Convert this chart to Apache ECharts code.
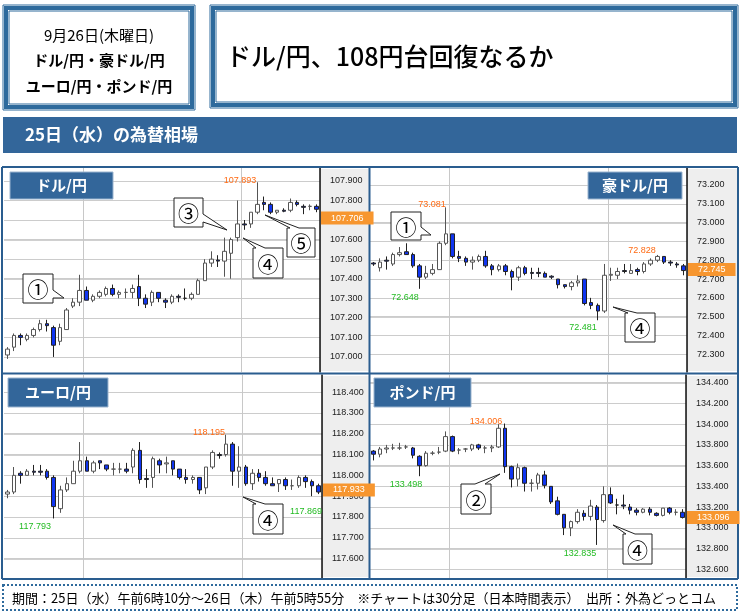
<!DOCTYPE html>
<html><head><meta charset="utf-8">
<script src="https://cdn.jsdelivr.net/npm/echarts@6/dist/echarts.min.js"></script>
<style>html,body{margin:0;padding:0;background:#fff}#c{width:740px;height:614px}</style>
</head><body><div id="c"></div>
<script>
// ---- data: [open, close, low, high] per 30-minute candle ----
const categories = [];
for (let i = 0; i < 48; i++) { const m = 370 + i * 30; categories.push(String(Math.floor(m / 60) % 24).padStart(2, '0') + ':' + String(m % 60).padStart(2, '0')); }

const usdjpy = [
[107.01,107.04,106.99,107.05],[107.05,107.11,107.03,107.12],[107.11,107.10,107.06,107.12],[107.09,107.11,107.08,107.12],
[107.11,107.14,107.10,107.15],[107.14,107.17,107.13,107.19],[107.17,107.16,107.13,107.19],[107.15,107.06,107.00,107.16],
[107.08,107.15,107.06,107.17],[107.14,107.24,107.14,107.25],[107.26,107.28,107.25,107.30],[107.28,107.34,107.26,107.42],
[107.34,107.29,107.29,107.36],[107.29,107.31,107.28,107.32],[107.31,107.33,107.30,107.34],[107.32,107.35,107.31,107.36],
[107.35,107.32,107.31,107.37],[107.32,107.33,107.30,107.34],[107.33,107.33,107.30,107.35],[107.33,107.35,107.30,107.37],
[107.36,107.30,107.26,107.42],[107.30,107.27,107.25,107.32],[107.28,107.33,107.26,107.34],[107.33,107.30,107.28,107.33],
[107.29,107.28,107.25,107.30],[107.28,107.31,107.27,107.32],[107.31,107.305,107.28,107.32],[107.30,107.30,107.29,107.35],
[107.30,107.32,107.29,107.33],[107.32,107.39,107.32,107.40],[107.39,107.48,107.39,107.50],[107.48,107.50,107.46,107.54],
[107.495,107.49,107.46,107.52],[107.49,107.54,107.41,107.61],[107.53,107.60,107.40,107.61],[107.61,107.68,107.59,107.80],
[107.68,107.675,107.65,107.70],[107.68,107.74,107.66,107.74],[107.74,107.78,107.73,107.893],[107.79,107.78,107.75,107.82],
[107.78,107.74,107.73,107.79],[107.74,107.75,107.73,107.75],[107.75,107.745,107.74,107.76],[107.75,107.79,107.74,107.81],
[107.79,107.78,107.77,107.80],[107.77,107.765,107.73,107.78],[107.77,107.77,107.75,107.78],[107.77,107.755,107.74,107.78]];

const audjpy = [
[72.785,72.78,72.77,72.79],[72.76,72.79,72.74,72.81],[72.80,72.795,72.75,72.82],[72.78,72.83,72.77,72.84],
[72.83,72.84,72.82,72.87],[72.845,72.83,72.83,72.89],[72.83,72.77,72.76,72.84],[72.77,72.71,72.648,72.78],
[72.71,72.73,72.70,72.77],[72.73,72.75,72.72,72.78],[72.75,72.89,72.75,72.90],[72.89,72.94,72.88,73.081],
[72.94,72.82,72.81,72.94],[72.82,72.81,72.79,72.85],[72.81,72.79,72.77,72.82],[72.79,72.80,72.75,72.82],
[72.80,72.82,72.79,72.83],[72.82,72.77,72.76,72.85],[72.77,72.75,72.72,72.78],[72.75,72.77,72.74,72.78],
[72.77,72.74,72.72,72.78],[72.74,72.71,72.64,72.75],[72.71,72.76,72.69,72.77],[72.76,72.73,72.72,72.77],
[72.735,72.73,72.70,72.76],[72.735,72.73,72.71,72.76],[72.73,72.71,72.71,72.74],[72.715,72.71,72.70,72.72],
[72.70,72.67,72.65,72.70],[72.67,72.66,72.65,72.67],[72.66,72.68,72.64,72.69],[72.68,72.69,72.66,72.72],
[72.70,72.57,72.56,72.70],[72.575,72.56,72.54,72.60],[72.56,72.53,72.481,72.57],[72.53,72.72,72.52,72.78],
[72.72,72.725,72.69,72.76],[72.72,72.74,72.70,72.76],[72.745,72.74,72.73,72.78],[72.73,72.745,72.73,72.78],
[72.75,72.74,72.72,72.76],[72.74,72.78,72.73,72.79],[72.78,72.80,72.77,72.81],[72.80,72.82,72.79,72.828],
[72.82,72.79,72.78,72.82],[72.79,72.785,72.77,72.80],[72.78,72.775,72.76,72.79],[72.77,72.745,72.72,72.78]];

const eurjpy = [
[117.91,117.92,117.89,117.93],[117.92,118.00,117.91,118.04],[118.01,118.00,117.96,118.02],[118.00,118.02,118.00,118.03],
[118.02,118.015,118.00,118.05],[118.02,118.015,118.00,118.05],[118.02,117.99,117.98,118.03],[117.99,117.85,117.793,118.00],
[117.84,117.93,117.82,117.95],[117.93,117.96,117.92,117.99],[117.96,118.02,117.96,118.07],[118.02,118.07,118.01,118.16],
[118.07,118.02,118.02,118.09],[118.02,118.06,118.01,118.07],[118.07,118.06,118.03,118.07],[118.05,118.03,118.02,118.05],
[118.03,118.03,118.00,118.06],[118.03,118.03,118.01,118.06],[118.03,118.02,118.01,118.06],[118.04,118.12,118.01,118.13],
[118.12,117.98,117.96,118.16],[117.985,117.98,117.94,118.03],[117.99,118.08,117.94,118.09],[118.07,118.05,118.01,118.08],
[118.055,118.06,118.01,118.09],[118.07,118.03,118.00,118.07],[118.03,117.99,117.98,118.03],[117.99,117.98,117.96,118.03],
[117.98,117.99,117.96,118.00],[117.99,117.93,117.91,117.99],[117.94,118.04,117.91,118.04],[118.04,118.11,118.03,118.12],
[118.10,118.095,118.08,118.11],[118.10,118.15,118.09,118.195],[118.15,118.02,117.95,118.16],[118.02,118.04,117.94,118.14],
[118.04,117.96,117.95,118.05],[117.96,118.01,117.93,118.03],[118.01,117.99,117.97,118.03],[117.99,117.96,117.95,118.02],
[117.96,117.95,117.95,117.99],[117.96,117.98,117.92,117.98],[117.98,117.95,117.93,117.99],[117.95,117.95,117.93,117.98],
[117.95,117.99,117.94,118.00],[117.99,117.97,117.94,118.00],[117.97,117.95,117.90,117.98],[117.95,117.92,117.91,117.96]];

const gbpjpy = [
[133.74,133.71,133.65,133.75],[133.71,133.76,133.68,133.78],[133.76,133.77,133.72,133.80],[133.77,133.77,133.75,133.81],
[133.77,133.77,133.75,133.82],[133.78,133.78,133.76,133.80],[133.77,133.70,133.67,133.78],[133.69,133.60,133.498,133.70],
[133.60,133.72,133.59,133.74],[133.72,133.72,133.70,133.74],[133.73,133.73,133.71,133.78],[133.74,133.88,133.73,133.93],
[133.88,133.74,133.73,133.89],[133.75,133.75,133.71,133.77],[133.76,133.76,133.73,133.77],[133.76,133.80,133.74,133.81],
[133.80,133.77,133.75,133.81],[133.77,133.77,133.72,133.79],[133.77,133.78,133.73,133.80],[133.78,133.96,133.77,134.00],
[133.96,133.59,133.53,134.006],[133.59,133.47,133.39,133.60],[133.47,133.58,133.40,133.62],[133.58,133.43,133.35,133.59],
[133.43,133.43,133.35,133.47],[133.43,133.51,133.37,133.53],[133.51,133.41,133.38,133.55],[133.40,133.25,133.23,133.40],
[133.26,133.13,133.12,133.30],[133.13,133.00,132.93,133.13],[133.00,133.06,132.92,133.07],[133.06,133.15,133.04,133.18],
[133.14,133.11,133.07,133.17],[133.11,133.21,133.07,133.27],[133.20,133.08,132.835,133.22],[133.07,133.32,133.05,133.40],
[133.32,133.24,133.23,133.39],[133.22,133.22,133.13,133.28],[133.22,133.21,133.18,133.32],[133.20,133.17,133.13,133.23],
[133.17,133.15,133.12,133.19],[133.15,133.18,133.14,133.19],[133.18,133.15,133.12,133.20],[133.14,133.12,133.11,133.15],
[133.12,133.19,133.11,133.19],[133.19,133.15,133.13,133.20],[133.15,133.15,133.12,133.18],[133.15,133.10,133.09,133.18]];

const usdTicks = [107.0,107.1,107.2,107.3,107.4,107.5,107.6,107.7,107.8,107.9];
const audTicks = [72.3,72.4,72.5,72.6,72.7,72.8,72.9,73.0,73.1,73.2];
const eurTicks = [117.6,117.7,117.8,117.9,118.0,118.1,118.2,118.3,118.4];
const gbpTicks = [132.6,132.8,133.0,133.2,133.4,133.6,133.8,134.0,134.2,134.4];
const lastValues = [107.706, 72.745, 117.933, 133.096];

// ---- layout ----
const FONT = "'Noto Sans CJK JP', sans-serif";
const NARROW = "'Liberation Sans Narrow', 'Noto Sans CJK JP', sans-serif";
const BLUE = '#33669a';
const panels = [
  {data: usdjpy, ticks: usdTicks, min: 106.923, max: 107.966, left: 4, right: 420, top: 168, h: 204},
  {data: audjpy, ticks: audTicks, min: 72.206, max: 73.29, left: 370, right: 53, top: 168, h: 204},
  {data: eurjpy, ticks: eurTicks, min: 117.507, max: 118.482, left: 4, right: 418, top: 375, h: 203},
  {data: gbpjpy, ticks: gbpTicks, min: 132.516, max: 134.474, left: 370, right: 54, top: 375, h: 203}
];

const grid = [], xAxis = [], yAxis = [], series = [];
panels.forEach((p, i) => {
  grid.push({left: p.left, right: p.right, top: p.top, height: p.h});
  xAxis.push({type: 'category', gridIndex: i, data: categories, boundaryGap: true,
    axisLine: {show: false}, axisTick: {show: false}, axisLabel: {show: false},
    splitLine: {show: true, interval: (idx) => idx === 12 || idx === 36, lineStyle: {color: '#c8c8c8', width: 1}}});
  yAxis.push({type: 'value', gridIndex: i, position: 'right', min: p.min, max: p.max,
    axisLine: {show: true, lineStyle: {color: '#111', width: 1.5}},
    axisTick: {show: false, customValues: p.ticks},
    splitLine: {show: true, lineStyle: {color: '#cccccc', width: 1}},
    axisLabel: {customValues: p.ticks, formatter: v => v.toFixed(3), fontSize: 9, color: '#222', margin: 10, fontFamily: 'Liberation Sans'}});
  series.push({type: 'candlestick', xAxisIndex: i, yAxisIndex: i, data: p.data, barWidth: 4, z: 3,
    itemStyle: {color: '#ffffff', color0: '#1035f0', borderColor: '#555', borderColor0: '#222', borderWidth: 1}});
  series.push({type: 'line', xAxisIndex: i, yAxisIndex: i, data: [], z: 20, silent: true,
    markLine: {silent: true, symbol: 'none', animation: false,
      data: [{yAxis: lastValues[i]}],
      lineStyle: {color: 'rgba(0,0,0,0)', width: 1},
      label: {show: true, position: 'end', distance: 1, formatter: lastValues[i].toFixed(3), color: '#fff', fontSize: 9,
        backgroundColor: '#f7962f', padding: [2, 10, 2, 10], fontFamily: 'Liberation Sans'}}});
});

// ---- decorations ----
const g = [];
function rect(x, y, w, h, style, z) { g.push({type: 'rect', shape: {x, y, width: w, height: h}, style, z: z || 0, silent: true}); }
function text(x, y, t, style, z) { g.push({type: 'text', x, y, style: Object.assign({text: t}, style), z: z || 10, silent: true}); }
function line(x1, y1, x2, y2, style, z) { g.push({type: 'line', shape: {x1, y1, x2, y2}, style, z: z || 5, silent: true}); }

[[3, 5, 192, 105], [210, 5, 528, 103]].forEach(b => {
  rect(b[0], b[1], b[2], b[3], {fill: '#fff', stroke: '#2e6a9c', lineWidth: 1});
  rect(b[0] + 3, b[1] + 3, b[2] - 6, b[3] - 6, {fill: '#fff', stroke: '#2e6a9c', lineWidth: 4});
  rect(b[0] + 6, b[1] + 6, b[2] - 12, b[3] - 12, {fill: '#fff', stroke: '#2e6a9c', lineWidth: 1});
});
text(99, 35, '9月26日(木曜日)', {font: '15px ' + NARROW, fill: '#000', align: 'center', verticalAlign: 'middle'});
text(99, 60, 'ドル/円・豪ドル/円', {font: 'bold 15px ' + NARROW, fill: '#000', align: 'center', verticalAlign: 'middle'});
text(99, 86, 'ユーロ/円・ポンド/円', {font: 'bold 15px ' + NARROW, fill: '#000', align: 'center', verticalAlign: 'middle'});
text(226, 56, 'ドル/円、108円台回復なるか', {font: '500 25px ' + FONT, fill: '#000', verticalAlign: 'middle'});

rect(3, 117, 734, 36, {fill: BLUE});
text(25, 135, '25日（水）の為替相場', {font: 'bold 17px ' + FONT, fill: '#fff', verticalAlign: 'middle'});

const FR = {stroke: '#2a5d8f', lineWidth: 2};
line(2, 167, 738, 167, FR); line(2, 579, 738, 579, FR); line(2, 167, 2, 579, FR); line(738, 167, 738, 579, FR);
line(2, 373.5, 738, 373.5, FR); line(369.5, 167, 369.5, 579, FR);
rect(321, 169, 48, 202, {fill: '#eeeeee'}, -1);
rect(688, 169, 49, 202, {fill: '#eeeeee'}, -1);
rect(323, 376, 46, 201, {fill: '#eeeeee'}, -1);
rect(687, 376, 50, 201, {fill: '#eeeeee'}, -1);

[[10, 172, 103, 27, 'ドル/円'], [588, 172, 94, 27, '豪ドル/円'], [8, 378, 100, 29, 'ユーロ/円'], [374, 378, 97, 29, 'ポンド/円']].forEach(t => {
  rect(t[0], t[1], t[2], t[3], {fill: BLUE, stroke: '#9bb4cf', lineWidth: 1}, 8);
  text(t[0] + t[2] / 2, t[1] + t[3] / 2, t[4], {font: 'bold 15px ' + FONT, fill: '#fff', align: 'center', verticalAlign: 'middle'}, 9);
});

const OR = '#ff6a13', GR = '#22bb22';
[[240, 181, '107.893', OR], [432, 205, '73.081', OR], [405, 298, '72.648', GR], [583, 328, '72.481', GR], [642, 251, '72.828', OR],
 [35, 527, '117.793', GR], [209, 433, '118.195', OR], [306, 512, '117.869', GR],
 [406, 485, '133.498', GR], [486, 422, '134.006', OR], [580, 554, '132.835', GR]].forEach(l => {
  text(l[0], l[1], l[2], {font: '9px Liberation Sans', fill: l[3], align: 'center', verticalAlign: 'middle'}, 6);
});

function callout(x, y, w, h, tx, ty, pos, label) {
  let pts;
  if (pos === 'r') pts = [[x, y], [x + w, y], [x + w, y + h - 13], [tx, ty], [x + w, y + h - 5], [x + w, y + h], [x, y + h]];
  else if (pos === 'tl') pts = [[x, y], [x + 3, y], [tx, ty], [x + 12, y], [x + w, y], [x + w, y + h], [x, y + h], [x, y + 4]];
  else pts = [[x, y], [x + w - 16, y], [tx, ty], [x + w - 6, y], [x + w, y], [x + w, y + h], [x, y + h]];
  g.push({type: 'polygon', shape: {points: pts}, style: {fill: '#fff', stroke: '#222', lineWidth: 1}, z: 12, silent: true});
  text(x + w / 2, y + h / 2 + 1, label, {font: '21px ' + FONT, fill: '#000', align: 'center', verticalAlign: 'middle'}, 13);
}
callout(23, 274, 30, 29, 64, 298, 'r', '①');
callout(174, 198, 29, 29, 227, 230, 'r', '③');
callout(253, 248, 30, 30, 243, 238, 'tl', '④');
callout(287, 228, 28, 29, 265, 215, 'tl', '⑤');
callout(391, 212, 30, 28, 431, 235, 'r', '①');
callout(625, 313, 30, 29, 613, 307, 'tl', '④');
callout(253, 504, 30, 30, 243, 497, 'tl', '④');
callout(461, 484, 30, 30, 500, 474, 'tr', '②');
callout(623, 534, 29, 30, 613, 525, 'tl', '④');

rect(3, 585, 734, 25, {fill: '#fff', stroke: '#2e6a9c', lineWidth: 2, lineDash: [2, 2]});
text(12, 598, '期間：25日（水）午前6時10分～26日（木）午前5時55分　※チャートは30分足（日本時間表示）　出所：外為どっとコム',
  {font: '13px ' + NARROW, fill: '#000', verticalAlign: 'middle'});

const chart = echarts.init(document.getElementById('c'));
chart.setOption({animation: false, grid, xAxis, yAxis, series, graphic: g});

// horizontal grid lines positioned through each panel's value scale
panels.forEach((p, i) => {
  const x1 = p.left, x2 = 740 - p.right;
  p.ticks.forEach(v => {
    const y = Math.round(chart.convertToPixel({yAxisIndex: i}, v)) + 0.5;
    line(x1, y, x2, y, {stroke: '#d0d0d0', lineWidth: 1}, -1);
  });
});
chart.setOption({graphic: g});
</script></body></html>
